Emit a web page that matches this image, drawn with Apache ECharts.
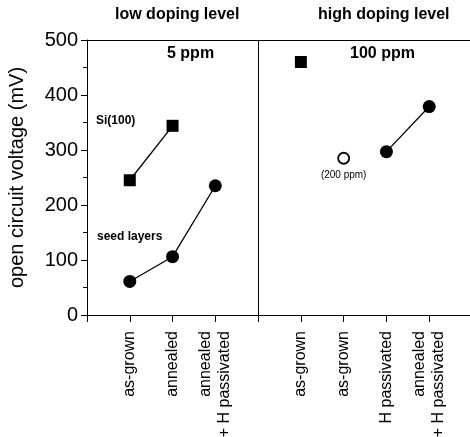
<!DOCTYPE html>
<html>
<head>
<meta charset="utf-8">
<script src="https://cdn.jsdelivr.net/npm/echarts@6/dist/echarts.min.js"></script>
<style>html,body{margin:0;padding:0;background:#fff}#c{width:470px;height:437px}</style>
</head>
<body>
<div id="c"></div>
<script>
// category labels at x positions 0..9
var tickLabels = ['', 'as-grown', 'annealed', 'annealed\n+ H passivated', '', 'as-grown', 'as-grown', 'H passivated', 'annealed\n+ H passivated', ''];
var yTicks = [0, 100, 200, 300, 400, 500];
// Si(100) reference, 5 ppm
var siX = [1, 2];
var siY = [245, 344];
// seed layers, 5 ppm
var seedX = [1, 2, 3];
var seedY = [61, 106, 235];
// high doping: Si(100) as-grown
var highSqX = [5];
var highSqY = [460];
// high doping: 200 ppm as-grown (open)
var openX = [6];
var openY = [285];
// high doping: seed layers passivated
var highX = [7, 8];
var highY = [297, 379];
var dividerX = 4;

function pairs(xs, ys) { return xs.map(function (x, i) { return [x, ys[i]]; }); }

var FONT = 'Liberation Sans, Arial, sans-serif';
var chart = echarts.init(document.getElementById('c'), null, { renderer: 'canvas' });
chart.setOption({
  animation: false,
  backgroundColor: '#fff',
  textStyle: { fontFamily: FONT },
  grid: { left: 87, right: -2, top: 40, bottom: 122, outerBoundsMode: 'none', containLabel: false },
  xAxis: [{
    type: 'value', min: 0, max: 9, interval: 1,
    axisLine: { show: true, lineStyle: { color: '#000', width: 1 } },
    axisTick: { show: true, length: 7, lineStyle: { color: '#000' } },
    axisLabel: {
      rotate: 90, margin: 16, fontSize: 16, color: '#000', fontFamily: FONT, lineHeight: 19,
      formatter: function (v) { return tickLabels[Math.round(v)] || ''; }
    },
    splitLine: { show: false }
  }, {
    type: 'value', min: 0, max: 9, position: 'top',
    axisLine: { show: true, lineStyle: { color: '#000', width: 1 } },
    axisTick: { show: false }, axisLabel: { show: false }, splitLine: { show: false }
  }],
  yAxis: {
    type: 'value', min: yTicks[0], max: yTicks[yTicks.length - 1], interval: 100,
    name: 'open circuit voltage (mV)', nameLocation: 'middle', nameGap: 60,
    nameTextStyle: { fontSize: 20, color: '#000', fontFamily: FONT },
    axisLine: { show: true, lineStyle: { color: '#000', width: 1 } },
    axisTick: { show: true, length: 6, lineStyle: { color: '#000' } },
    minorTick: { show: true, splitNumber: 2, length: 4, lineStyle: { color: '#000' } },
    axisLabel: { fontSize: 20, color: '#000', margin: 9, fontFamily: FONT },
    splitLine: { show: false }
  },
  series: [
    {
      type: 'line', data: pairs(siX, siY), symbol: 'rect', symbolSize: 12,
      itemStyle: { color: '#000', opacity: 1 }, lineStyle: { color: '#000', width: 1.3 },
      markLine: {
        silent: true, symbol: 'none', label: { show: false },
        lineStyle: { color: '#000', width: 1, type: 'solid' },
        data: [{ xAxis: dividerX }]
      }
    },
    {
      type: 'line', data: pairs(seedX, seedY), symbol: 'circle', symbolSize: 13,
      itemStyle: { color: '#000', opacity: 1 }, lineStyle: { color: '#000', width: 1.3 }
    },
    {
      type: 'scatter', data: pairs(highSqX, highSqY), symbol: 'rect', symbolSize: 12,
      itemStyle: { color: '#000', opacity: 1 }
    },
    {
      type: 'scatter', data: pairs(openX, openY), symbol: 'circle', symbolSize: 11,
      itemStyle: { color: '#fff', borderColor: '#000', borderWidth: 1.8, opacity: 1 },
      label: { show: true, position: 'bottom', distance: 6, formatter: '(200 ppm)', fontSize: 10, color: '#000', fontFamily: FONT }
    },
    {
      type: 'line', data: pairs(highX, highY), symbol: 'circle', symbolSize: 13,
      itemStyle: { color: '#000', opacity: 1 }, lineStyle: { color: '#000', width: 1.3 }
    }
  ],
  graphic: [
    { type: 'text', left: 115, top: 7, style: { text: 'low doping level', font: 'bold 16px ' + FONT, fill: '#000' } },
    { type: 'text', left: 318, top: 7, style: { text: 'high doping level', font: 'bold 16px ' + FONT, fill: '#000' } },
    { type: 'text', left: 167, top: 46, style: { text: '5 ppm', font: 'bold 16px ' + FONT, fill: '#000' } },
    { type: 'text', left: 350, top: 46, style: { text: '100 ppm', font: 'bold 16px ' + FONT, fill: '#000' } },
    { type: 'text', left: 96, top: 115, style: { text: 'Si(100)', font: 'bold 12px ' + FONT, fill: '#000' } },
    { type: 'text', left: 97, top: 231, style: { text: 'seed layers', font: 'bold 12px ' + FONT, fill: '#000' } }
  ]
});
</script>
</body>
</html>
